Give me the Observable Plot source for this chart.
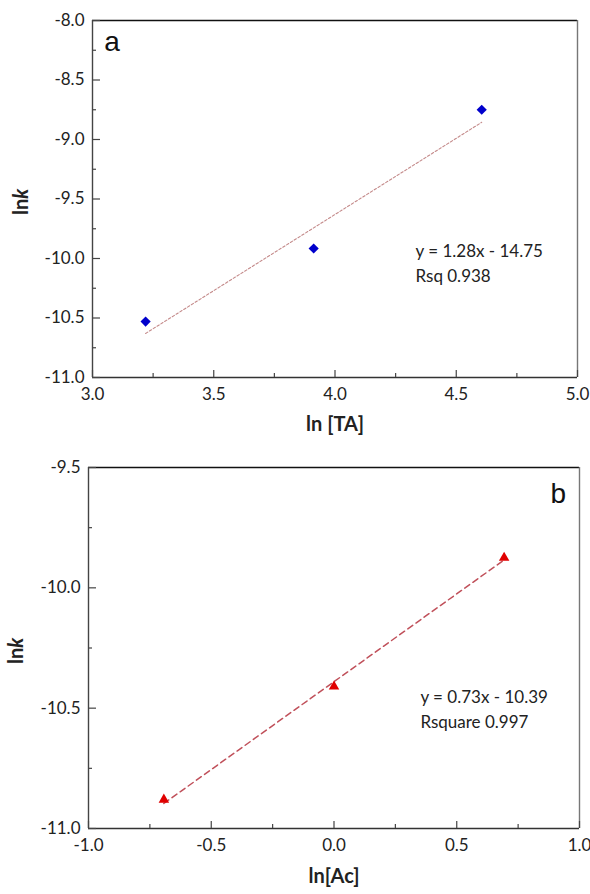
<!DOCTYPE html>
<html>
<head>
<meta charset="utf-8">
<script src="https://cdn.jsdelivr.net/npm/d3@7"></script>
<script src="https://cdn.jsdelivr.net/npm/@observablehq/plot@0.6"></script>
<style>
  html, body { margin: 0; padding: 0; background: #fff; }
  #chart { width: 590px; }
  #chart svg { display: block; }
</style>
</head>
<body>
<div id="chart"></div>
<script>
// ---------- data: panel a ----------
const lnTA = [3.219, 3.912, 4.605];
const lnkA = [-10.53, -9.916, -8.75];
const fitA = { slope: 1.28, intercept: -14.75 };
const eqA = ["y = 1.28x - 14.75", "Rsq 0.938"];
const xTicksA = [3.0, 3.5, 4.0, 4.5, 5.0];
const xMinorA = [3.25, 3.75, 4.25, 4.75];
const yTicksA = [-8.0, -8.5, -9.0, -9.5, -10.0, -10.5, -11.0];
const yMinorA = [-8.25, -8.75, -9.25, -9.75, -10.25, -10.75];

// ---------- data: panel b ----------
const lnAc = [-0.693, 0.0, 0.693];
const lnkB = [-10.88, -10.41, -9.875];
const fitB = { slope: 0.73, intercept: -10.39 };
const eqB = ["y = 0.73x - 10.39", "Rsquare 0.997"];
const xTicksB = [-1.0, -0.5, 0.0, 0.5, 1.0];
const xMinorB = [-0.75, -0.25, 0.25, 0.75];
const yTicksB = [-9.5, -10.0, -10.5, -11.0];
const yMinorB = [-9.75, -10.25, -10.75];

const fmt = d => d.toFixed(1);
const FONT = "Lato, 'Open Sans', sans-serif";

function panel(cfg) {
  const innerW = cfg.width - cfg.ml - cfg.mr;
  const innerH = cfg.height - cfg.mt - cfg.mb;
  const pts = cfg.xs.map((x, i) => ({ x, y: cfg.ys[i] }));
  const x0 = d3.min(cfg.xs), x1 = d3.max(cfg.xs);
  const fit = [x0, x1].map(x => ({ x, y: cfg.fit.slope * x + cfg.fit.intercept }));
  const [xd0, xd1] = cfg.xDomain, [yd0, yd1] = cfg.yDomain;

  const svg = Plot.plot({
    width: cfg.width,
    height: cfg.height,
    marginTop: cfg.mt, marginBottom: cfg.mb, marginLeft: cfg.ml, marginRight: cfg.mr,
    style: { fontFamily: FONT, fontSize: "17px", color: "#222", background: "#fff" },
    x: { domain: cfg.xDomain },
    y: { domain: cfg.yDomain },
    marks: [
      // fit line
      Plot.line(fit, { x: "x", y: "y", stroke: cfg.lineColor, strokeWidth: cfg.lineWidth, strokeDasharray: cfg.dash }),
      // points
      Plot.dot(pts, { x: "x", y: "y", symbol: cfg.symbol, fill: cfg.dotColor, r: cfg.r }),
      // frame lines
      Plot.ruleY([yd1], { stroke: "#111", strokeWidth: 1.6 }),
      Plot.ruleX([xd1], { stroke: "#777", strokeWidth: 1.4 }),
      Plot.ruleX([xd0], { stroke: "#444", strokeWidth: 1.4 }),
      Plot.ruleY([yd0], { stroke: "#333", strokeWidth: 1.4 }),
      // inward ticks
      Plot.tickX(cfg.xTicks, { x: d => d, insetTop: innerH - 7, stroke: "#444", strokeWidth: 1.2 }),
      Plot.tickX(cfg.xMinor, { x: d => d, insetTop: innerH - 4, stroke: "#444", strokeWidth: 1.2 }),
      Plot.tickY(cfg.yTicks, { y: d => d, insetRight: innerW - 8, stroke: "#444", strokeWidth: 1.2 }),
      Plot.tickY(cfg.yMinor, { y: d => d, insetRight: innerW - 4, stroke: "#444", strokeWidth: 1.2 }),
      // tick labels
      Plot.axisX(cfg.xTicks, { tickSize: 0, tickPadding: 10, tickFormat: fmt, label: null, fontSize: 17, fill: "#222" }),
      Plot.axisY(cfg.yTicks, { tickSize: 0, tickPadding: 8, tickFormat: fmt, label: null, fontSize: 17, fill: "#222" }),
      // axis titles
      Plot.text([cfg.xTitle], { frameAnchor: "bottom", dy: cfg.xTitleDy, fontSize: 20, fontWeight: "bold", fill: "#222" }),
      Plot.text(["lnk"], { frameAnchor: "left", dx: cfg.yTitleDx, dy: cfg.yTitleDy, rotate: -90, fontSize: 20, fontWeight: "bold", fill: "#222" }),
      // equation
      Plot.text([cfg.eq[0]], { x: cfg.eqX, y: cfg.eqY[0], textAnchor: "start", fontSize: 17, fill: "#222" }),
      Plot.text([cfg.eq[1]], { x: cfg.eqX, y: cfg.eqY[1], textAnchor: "start", fontSize: 17, fill: "#222" }),
      // panel letter
      Plot.text([cfg.letter], { x: cfg.letterX, y: cfg.letterY, textAnchor: "start", fontSize: 28, fontFamily: "'Liberation Sans', Arial, sans-serif", fill: "#111" })
    ]
  });

  // italic k in the y title
  d3.select(svg).selectAll("text").filter(function () { return this.textContent === "lnk"; })
    .each(function () {
      const t = d3.select(this);
      t.text(null);
      t.append("tspan").text("ln");
      t.append("tspan").attr("font-style", "italic").text("k");
    });
  return svg;
}

const root = document.getElementById("chart");

root.appendChild(panel({
  width: 590, height: 450, mt: 20, mb: 73, ml: 92, mr: 13,
  xs: lnTA, ys: lnkA, fit: fitA, eq: eqA,
  xDomain: [3.0, 5.0], yDomain: [-11.0, -8.0],
  xTicks: xTicksA, xMinor: xMinorA, yTicks: yTicksA, yMinor: yMinorA,
  symbol: "diamond2", dotColor: "#0000cc", r: 4.6,
  lineColor: "#c48a8a", lineWidth: 1.1, dash: "2.5,2",
  xTitle: "ln [TA]", xTitleDy: 53, yTitleDx: -71, yTitleDy: 16,
  eqX: 4.332, eqY: [-9.939, -10.149],
  letter: "a", letterX: 3.048, letterY: -8.185
}));

root.appendChild(panel({
  width: 590, height: 444, mt: 17, mb: 66, ml: 88, mr: 11,
  xs: lnAc, ys: lnkB, fit: fitB, eq: eqB,
  xDomain: [-1.0, 1.0], yDomain: [-11.0, -9.5],
  xTicks: xTicksB, xMinor: xMinorB, yTicks: yTicksB, yMinor: yMinorB,
  symbol: "triangle2", dotColor: "#e00000", r: 5,
  lineColor: "#c0505a", lineWidth: 1.5, dash: "6,4",
  xTitle: "ln[Ac]", xTitleDy: 54, yTitleDx: -72, yTitleDy: 16,
  eqX: 0.352, eqY: [-10.454, -10.558],
  letter: "b", letterX: 0.882, letterY: -9.612
}));
</script>
</body>
</html>
